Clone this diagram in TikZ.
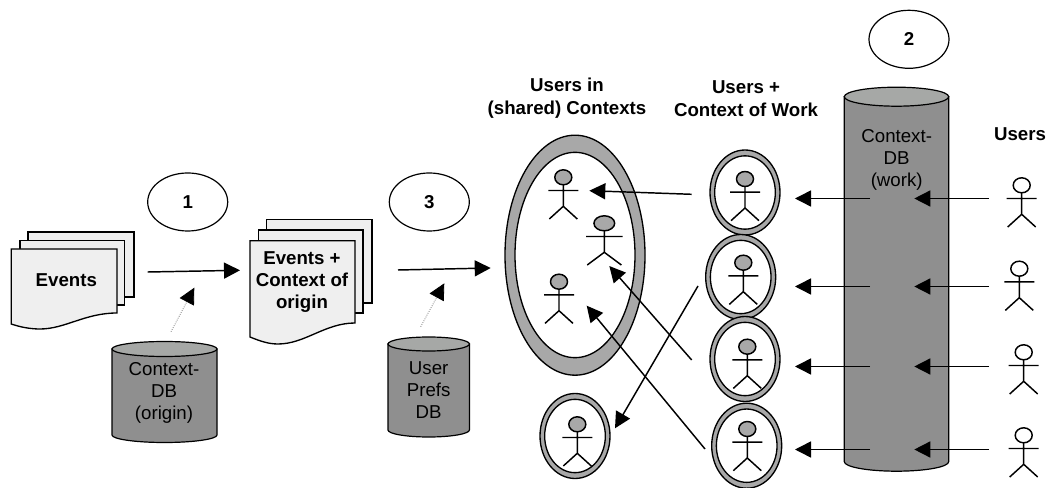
\documentclass[tikz,border=0pt]{standalone}
\usepackage{fontspec}
\setmainfont{Liberation Sans}
\usetikzlibrary{arrows.meta,shapes.geometric,positioning}
\definecolor{dbbody}{HTML}{8F8F8F}
\definecolor{dbtop}{HTML}{A6A8A6}
\definecolor{ringgray}{HTML}{A8A8A8}
\definecolor{pagegray}{HTML}{EFEFEF}
\newcommand{\diagramfont}{\fontsize{14}{16.6}\selectfont}
\tikzset{
	actor head/.store in=\actorhead,
	actor head=ringgray,
	pics/actor/.style={code={
		\draw[line width=1.1pt,fill=\actorhead] (0,0) ellipse [x radius=8.5,y radius=7.5];
		\draw[line width=1.1pt] (0,7.5) -- (0,29) (-15,13.2) -- (15,13.2) (-14,41.7) -- (0,29) -- (14,41.7);
	}},
	pics/dbcan/.style n args={3}{code={
		\draw[line width=.9pt,fill=dbbody] (-#1,0) -- (-#1,#3) arc [start angle=180,end angle=0,x radius=#1,y radius=#2] -- (#1,0) -- cycle;
		\draw[line width=.9pt,fill=dbtop] (0,0) ellipse [x radius=#1,y radius=#2];
	}},
	numbered/.style={draw,ellipse,line width=.9pt,minimum width=60pt,minimum height=43.5pt,inner sep=0pt,font=\diagramfont\bfseries},
	heading/.style={align=center,font=\diagramfont\bfseries,inner sep=0pt},
	dbtext/.style={align=center,font=\diagramfont,text=black,inner sep=0pt},
	page/.style={draw,line width=1pt,fill=pagegray},
	ringout/.style={draw,ellipse,line width=1pt,fill=ringgray,inner sep=0pt},
	ringin/.style={draw,ellipse,line width=1pt,fill=white,inner sep=0pt},
	ar/.style={line width=1.1pt,-{Triangle[length=12pt,width=12pt]}},
	arfaint/.style={densely dotted,line width=.6pt,draw=black!55,-{Triangle[length=12pt,width=12pt,color=black,fill=black]}}
}
\begin{document}
\begin{tikzpicture}[x=.75pt,y=-.75pt]
	\useasboundingbox (0,0) rectangle (1047,488);
	% source documents
	\draw[page] (28,232) -- (134,232) -- (134,297) -- (28,297) -- cycle;
	\draw[page] (20,240.5) -- (124.7,240.5) -- (124.7,305) -- (20,305) -- cycle;
	\draw[page] (11.3,249) -- (117,249) -- (117,313) .. controls (85,313) and (65,329) .. (40,329) .. controls (30,329) and (20,327) .. (11.3,324) -- cycle;
	\node[heading] (events) at (66.3,280) {Events};
	% enriched documents
	\draw[page] (266.7,219.7) -- (372,219.7) -- (372,303) -- (266.7,303) -- cycle;
	\draw[page] (258.7,230) -- (363,230) -- (363,313) -- (258.7,313) -- cycle;
	\draw[page] (250,240.7) -- (355,240.7) -- (355,323) .. controls (325,323) and (305,344) .. (278,344) .. controls (268,344) and (260,341) .. (250,337) -- cycle;
	\node[heading] (enriched) at (302,281.7) {Events +\\Context of\\origin};
	% step numbers
	\node[numbered] (one) at (187.7,202) {1};
	\node[numbered] (three) at (429.3,202) {3};
	\node[numbered] (two) at (909,39.3) {2};
	% databases
	\pic (dborigin) at (164.5,349) {dbcan={52.5}{7.5}{86}};
	\node[dbtext] (origintext) at (164,393) {Context-\\DB\\(origin)};
	\pic (dbprefs) at (428.7,344) {dbcan={40.7}{7}{86}};
	\node[dbtext] (prefstext) at (428.7,390) {User\\Prefs\\DB};
	\pic (dbwork) at (896.5,96.7) {dbcan={52.2}{9.5}{365}};
	\node[dbtext] (worktext) at (896.7,160) {Context-\\DB\\(work)};
	% headings
	\node[heading] (shared) at (567,98.5) {Users in\\[.7pt](shared) Contexts};
	\node[heading] (work) at (746,98.5) {Users +\\[.7pt]Context of Work};
	\node[heading] (users) at (1020,134) {Users};
	% shared context
	\node[ringout,minimum width=105pt,minimum height=180pt] (bigring) at (575,255.2) {};
	\node[ringin,minimum width=90pt,minimum height=154pt] (bighole) at (575,255) {};
	\pic at (563.3,177.3) {actor};
	\pic[xscale=1.22] at (604.3,223.3) {actor};
	\pic at (559,281.7) {actor};
	% single users with their context
	\foreach \name/\cx/\cy/\hx/\hy in {ringa/745/192.5/745/179,ringb/740.7/277/743.3/262.7,ringc/745/359/747.3/346.7,ringd/746.7/445.7/747.3/429,ringe/575/436/577.3/424.3} {
		\node[ringout,minimum width=52.5pt,minimum height=63.75pt] (\name) at (\cx,\cy) {};
		\node[ringin,minimum width=45.5pt,minimum height=55pt] (\name hole) at (\cx,\cy) {};
		\pic at (\hx,\hy) {actor};
	}
	% users
	\foreach \hx/\hy in {1021.7/185.3,1019.3/268.7,1023.7/352.3,1023.7/435.3} {
		\pic[actor head=white] at (\hx,\hy) {actor};
	}
	% flow from left to right
	\coordinate (evout) at (147.7,272);
	\coordinate (enin) at (240,270.3);
	\coordinate (enout) at (398,270);
	\coordinate (bigin) at (490.7,268);
	\draw[ar] (evout) -- (enin);
	\draw[ar] (enout) -- (bigin);
	\coordinate (origout) at (171,331.7);
	\coordinate (origtip) at (194.3,287.7);
	\coordinate (prefout) at (420.7,326.7);
	\coordinate (preftip) at (444.3,283.3);
	\draw[arfaint] (origout) -- (origtip);
	\draw[arfaint] (prefout) -- (preftip);
	% flow through the work database
	\foreach \i/\y in {1/198.5,2/286.5,3/366.5,4/449.5} {
		\coordinate (usr\i) at (989,\y);
		\coordinate (dbin\i) at (914.3,\y);
		\coordinate (dbout\i) at (870,\y);
		\coordinate (ringtip\i) at (795,\y);
		\draw[ar] (usr\i) -- (dbin\i);
		\draw[ar] (dbout\i) -- (ringtip\i);
	}
	% into the shared context
	\coordinate (aout) at (691.7,194.3);
	\coordinate (atip) at (589.3,190.7);
	\coordinate (cout) at (691.7,360);
	\coordinate (ctip) at (609.3,266);
	\coordinate (dout) at (705,449);
	\coordinate (dtip) at (586.7,305.7);
	\coordinate (bout) at (698,286);
	\coordinate (btip) at (615,428.3);
	\draw[ar] (aout) -- (atip);
	\draw[ar] (cout) -- (ctip);
	\draw[ar] (dout) -- (dtip);
	\draw[ar] (bout) -- (btip);
\end{tikzpicture}
\end{document}
